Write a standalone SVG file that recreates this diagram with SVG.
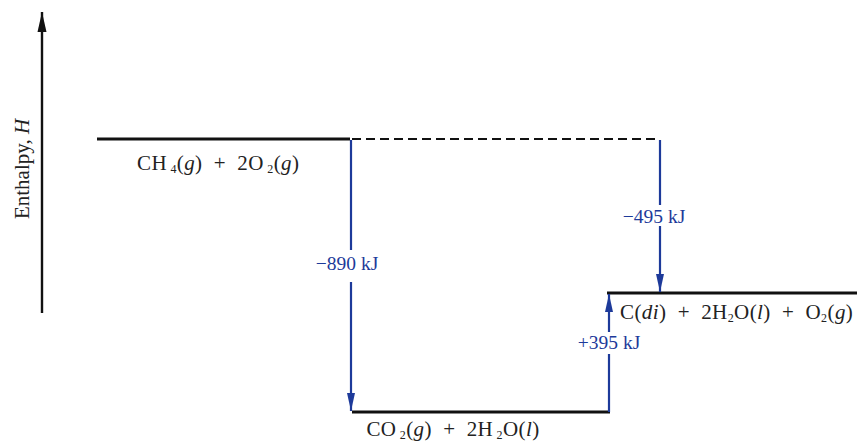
<svg xmlns="http://www.w3.org/2000/svg" width="857" height="444" viewBox="0 0 857 444">
<defs>
<marker id="ab" viewBox="0 0 18 10" refX="18" refY="5" markerWidth="18" markerHeight="10" markerUnits="userSpaceOnUse" orient="auto"><path d="M0,1 L18,5 L0,9 Z" fill="#1d3a9a"/></marker>
<marker id="ak" viewBox="0 0 20 10" refX="20" refY="5" markerWidth="20" markerHeight="10" markerUnits="userSpaceOnUse" orient="auto"><path d="M0,0.5 L20,5 L0,9.5 Z" fill="#111"/></marker>
</defs>
<style>
text{font-family:"Liberation Serif","DejaVu Serif",serif;font-size:21px;fill:#222;white-space:pre}
.b{fill:#1d3a9a;font-size:19.5px}
.lvl{stroke:#111;stroke-width:3;fill:none}
.arr{stroke:#1d3a9a;stroke-width:2.2;fill:none}
.sub{font-size:12px}
</style>
<rect width="857" height="444" fill="#fff"/>
<g id="axis">
<line x1="42" y1="313" x2="42" y2="12" stroke="#111" stroke-width="2.4" marker-end="url(#ak)"/>
<text x="0" y="0" transform="translate(29,169) rotate(-90)" text-anchor="middle" xml:space="preserve">Enthalpy, <tspan font-style="italic">H</tspan></text>
</g>
<g id="reactants">
<line class="lvl" x1="97" y1="139" x2="350" y2="139"/>
<text x="137" y="170" letter-spacing="0.4" xml:space="preserve">CH<tspan class="sub" dy="3"> 4</tspan><tspan dy="-3">(<tspan font-style="italic">g</tspan>)  +  2O</tspan><tspan class="sub" dy="3"> 2</tspan><tspan dy="-3">(<tspan font-style="italic">g</tspan>)</tspan></text>
</g>
<g id="products">
<line class="lvl" x1="352" y1="412" x2="610" y2="412"/>
<text x="453" y="436" text-anchor="middle" letter-spacing="0.4" xml:space="preserve">CO<tspan class="sub" dy="3"> 2</tspan><tspan dy="-3">(<tspan font-style="italic">g</tspan>)  +  2H</tspan><tspan class="sub" dy="3"> 2</tspan><tspan dy="-3">O(<tspan font-style="italic">l</tspan>)</tspan></text>
</g>
<g id="intermediate">
<line class="lvl" x1="607" y1="293" x2="857" y2="293"/>
<text x="620" y="319" letter-spacing="0.4" xml:space="preserve">C(<tspan font-style="italic">di</tspan>)  +  2H<tspan class="sub" dy="3">2</tspan><tspan dy="-3">O(<tspan font-style="italic">l</tspan>)  +  O</tspan><tspan class="sub" dy="3">2</tspan><tspan dy="-3">(<tspan font-style="italic">g</tspan>)</tspan></text>
</g>
<g id="connectors">
<line x1="352" y1="139" x2="660" y2="139" stroke="#111" stroke-width="2" stroke-dasharray="9,5"/>
<line class="arr" x1="351" y1="140" x2="351" y2="250"/>
<line class="arr" x1="351" y1="282" x2="351" y2="411" marker-end="url(#ab)"/>
<text class="b" x="347" y="270" text-anchor="middle" xml:space="preserve">−890 kJ</text>
<line class="arr" x1="660" y1="140" x2="660" y2="205"/>
<line class="arr" x1="660" y1="226" x2="660" y2="292" marker-end="url(#ab)"/>
<text class="b" x="654" y="223" text-anchor="middle" xml:space="preserve">−495 kJ</text>
<line class="arr" x1="609" y1="412" x2="609" y2="354"/>
<line class="arr" x1="609" y1="332" x2="609" y2="294" marker-end="url(#ab)"/>
<text class="b" x="609" y="349" text-anchor="middle" xml:space="preserve">+395 kJ</text>
</g>
</svg>
